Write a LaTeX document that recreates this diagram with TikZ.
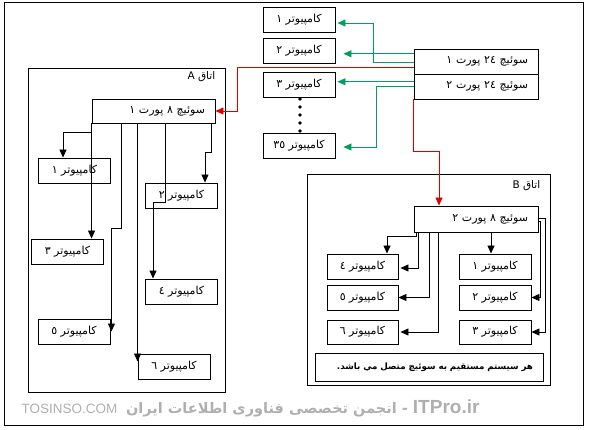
\documentclass[tikz,border=0pt]{standalone}
\usepackage{fontspec}
\usepackage{tikz}
\usetikzlibrary{arrows.meta}
\TeXXeTstate=1
\setmainfont{Liberation Sans}
\newfontfamily\fa[Script=Arabic]{DejaVu Sans}
\newcommand{\fatxt}[1]{{\fa\beginR #1\endR}}
\definecolor{linkgreen}{RGB}{0,158,96}
\definecolor{linkred}{RGB}{222,0,0}
\definecolor{markgray}{RGB}{175,175,175}
\tikzset{
  pc/.style={draw, line width=0.9pt, minimum width=72pt, minimum height=25pt,
    inner sep=0pt, font={\fontsize{11}{12}\selectfont}},
  swbox/.style={pc, minimum width=124pt, text width=104pt, align=right},
  room/.style={draw, line width=0.9pt, inner sep=0pt},
  wire/.style={line width=0.8pt, -{Triangle[length=8pt,width=7pt]}},
  gwire/.style={wire, linkgreen},
  rwire/.style={wire, linkred}
}

\begin{document}
\begin{tikzpicture}[x=1pt,y=-1pt]
        \useasboundingbox (0,0) rectangle (589,429);
        \draw[line width=0.9pt] (4,2) rectangle (583,425);
        % main switches and the computers on them
        \node[swbox, minimum height=25.5pt] (sw24a) at (476,61.75) {\fatxt{سوئیچ ٢٤ پورت ١}};
        \node[swbox, minimum height=24.5pt] (sw24b) at (476,86.75) {\fatxt{سوئیچ ٢٤ پورت ٢}};
        \node[pc] (tPc1) at (299,19.5) {\fatxt{کامپیوتر ١}};
        \node[pc] (tPc2) at (299,50.5) {\fatxt{کامپیوتر ٢}};
        \node[pc] (tPc3) at (299,84.5) {\fatxt{کامپیوتر ٣}};
        \node[pc] (tPc35) at (299,145.5) {\fatxt{کامپیوتر ٣٥}};
        \foreach \y in {99,107,115,123,131}
            \fill (300,\y) circle (1.9pt);
        \draw[gwire] ([yshift=-1pt]sw24a.west) -- ++(-40,0) |- ([xshift=2pt,yshift=-3.5pt]tPc1.east);
        \draw[gwire] ([yshift=8pt]sw24a.west) -- ([xshift=8pt,yshift=8pt]sw24a.west -| tPc2.east);
        \draw[gwire] ([yshift=5pt]sw24b.west) -- ([xshift=2pt,yshift=5pt]sw24b.west -| tPc3.east);
        \draw[gwire] (sw24b.west) -- ++(-37,0) |- ([xshift=8pt,yshift=-1.5pt]tPc35.east);
        % room A
        \node[room, minimum width=197pt, minimum height=324pt] (roomA) at (126.5,230) {};
        \node[anchor=north east, inner sep=0pt, font={\fontsize{10.5}{11}\selectfont}] (labA)
            at ([xshift=-10pt,yshift=-4pt]roomA.north east) {\fatxt{اتاق A}};
        \node[swbox, minimum width=123pt, text width=103pt, minimum height=24pt] (swA) at (153.5,111) {\fatxt{سوئیچ ٨ پورت ١}};
        \node[pc] (aPc1) at (74.5,170.5) {\fatxt{کامپیوتر ١}};
        \node[pc] (aPc2) at (181.5,195.5) {\fatxt{کامپیوتر ٢}};
        \node[pc] (aPc3) at (67.5,251.5) {\fatxt{کامپیوتر ٣}};
        \node[pc] (aPc4) at (181.5,291.5) {\fatxt{کامپیوتر ٤}};
        \node[pc] (aPc5) at (74,331.5) {\fatxt{کامپیوتر ٥}};
        \node[pc] (aPc6) at (174,366.5) {\fatxt{کامپیوتر ٦}};
        \draw[rwire] ([yshift=-6pt]sw24a.west) -- ++(-176,0) |- (swA.east);
        \draw[wire] (swA.south west) -- ++(0,9) -| ([xshift=-11.5pt]aPc1.north);
        \draw[wire] (swA.south west) -- (swA.south west |- aPc3.north);
        \draw[wire] ([xshift=30pt]swA.south west) -- ++(0,105) -| ([xshift=1pt]aPc5.east);
        \draw[wire] (swA.south -| aPc6.west) -- ([yshift=5pt]aPc6.west);
        \draw[wire] ([xshift=74pt]swA.south west) -- ++(0,79) -| ([xshift=-28.5pt]aPc4.north);
        \draw[wire] ([xshift=-4pt]swA.south east) -- ++(0,29) -| ([xshift=23.5pt]aPc2.north);
        % room B
        \node[room, minimum width=243pt, minimum height=211pt] (roomB) at (428.5,279.5) {};
        \node[anchor=north east, inner sep=0pt, font={\fontsize{10.5}{11}\selectfont}] (labB)
            at ([xshift=-10pt,yshift=-7pt]roomB.north east) {\fatxt{اتاق B}};
        \node[swbox, minimum height=26pt] (swB) at (476,219) {\fatxt{سوئیچ ٨ پورت ٢}};
        \node[pc, minimum width=71pt] (bPc4) at (362.5,266.5) {\fatxt{کامپیوتر ٤}};
        \node[pc, minimum width=71pt] (bPc5) at (362.5,297.5) {\fatxt{کامپیوتر ٥}};
        \node[pc, minimum width=71pt, minimum height=24pt] (bPc6) at (362.5,332) {\fatxt{کامپیوتر ٦}};
        \node[pc] (bPc1) at (495,266.5) {\fatxt{کامپیوتر ١}};
        \node[pc] (bPc2) at (495,297.5) {\fatxt{کامپیوتر ٢}};
        \node[pc, minimum height=24pt] (bPc3) at (495,332) {\fatxt{کامپیوتر ٣}};
        \node[pc, minimum width=228pt, minimum height=28pt, text width=208pt, align=right,
            font={\fontsize{8.7}{10}\selectfont}] (note) at (429,367)
            {{\fa\bfseries\beginR هر سیستم مستقیم به سوئیچ متصل مي باشد.\endR}};
        \draw[rwire] (sw24b.south west) -- ++(0,52) -| ([xshift=-37pt]swB.north);
        \draw[wire] ([xshift=-4pt]bPc1.north |- swB.south) -- ([xshift=-4pt]bPc1.north);
        \draw[wire] ([xshift=3pt]swB.south west) -- ++(0,4) -| ([xshift=24.5pt]bPc4.north);
        \draw[wire] ([xshift=5pt]swB.south west) |- ([xshift=2pt,yshift=-1.5pt]bPc4.east);
        \draw[wire] ([xshift=16pt]swB.south west) |- (bPc5.east);
        \draw[wire] ([xshift=25pt]swB.south west) |- ([xshift=2pt]bPc6.east);
        \draw[wire] ([yshift=-2pt]swB.east) -- ++(2,0) |- (bPc2.east);
        \draw[wire] ([yshift=1pt]swB.east) -- ++(7,0) |- (bPc3.east);
        % site marks
        \node[anchor=west, text=markgray, font={\fontsize{13.5}{14}\selectfont}] (siteA) at (18,409) {TOSINSO.COM};
        \node[anchor=east, text=markgray] (siteB) at (483,408)
            {{\fa\bfseries\fontsize{14.5}{15}\selectfont\beginR\beginL{\normalfont\bfseries\fontsize{19}{20}\selectfont ITPro.ir}\endL{} - انجمن تخصصی فناوری اطلاعات ایران\endR}};
\end{tikzpicture}
\end{document}
